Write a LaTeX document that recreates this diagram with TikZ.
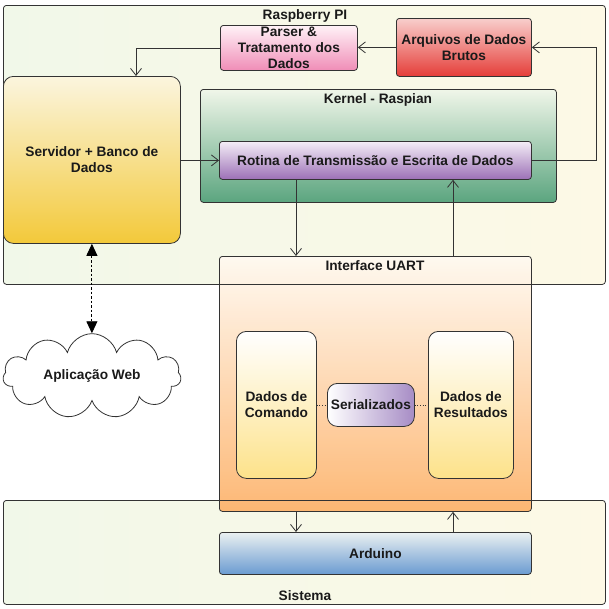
\documentclass[tikz,border=0pt]{standalone}
\usepackage{fontspec}
\setmainfont{Liberation Sans}
\usetikzlibrary{arrows.meta,shapes.symbols,calc}
\definecolor{edge}{HTML}{333333}
\definecolor{txt}{HTML}{1A1A1A}
\definecolor{contL}{HTML}{F1F8E9}
\definecolor{contR}{HTML}{FDF9E6}
\definecolor{parT}{HTML}{FFF2F7}
\definecolor{parB}{HTML}{F08DB7}
\definecolor{arqT}{HTML}{F8CECC}
\definecolor{arqB}{HTML}{E53E39}
\definecolor{srvT}{HTML}{FBF5DE}
\definecolor{srvB}{HTML}{F3C93A}
\definecolor{kerT}{HTML}{F0F6E9}
\definecolor{kerB}{HTML}{5BA57F}
\definecolor{rotT}{HTML}{F4EEF7}
\definecolor{rotB}{HTML}{9C70B6}
\definecolor{uartT}{HTML}{FFF9F1}
\definecolor{uartB}{HTML}{FDB066}
\definecolor{cmdT}{HTML}{FFFFFF}
\definecolor{cmdB}{HTML}{FDE28A}
\definecolor{serL}{HTML}{FFFFFF}
\definecolor{serR}{HTML}{A68CC5}
\definecolor{ardT}{HTML}{EAF0F1}
\definecolor{ardB}{HTML}{6A9BD1}
\begin{document}
\begin{tikzpicture}[x=1pt,y=-1pt,
 font=\bfseries\fontsize{13.7}{16}\selectfont,
 box/.style={draw=edge, line width=0.8pt, rounded corners=#1, anchor=north west, inner sep=0pt, align=center, text=txt},
 box/.default=3pt,
 lbl/.style={text=txt, inner sep=0pt},
 arr/.style={draw=edge, line width=0.8pt, -{Straight Barb[length=7pt,width=11pt]}},
 dotl/.style={draw=edge, line width=0.6pt, dotted},
 dashl/.style={draw=black, line width=0.9pt, dash pattern=on 2.5pt off 2pt, {Triangle[length=12pt,width=11pt]}-{Triangle[length=12pt,width=11pt]}}
]
\useasboundingbox (0,0) rectangle (609,608);
% containers
\node[box, minimum width=602pt, minimum height=279pt, left color=contL, right color=contR] (rasp) at (3,5) {};
\node[lbl] (lrasp) at (305,16) {Raspberry PI};
\node[box, minimum width=602pt, minimum height=104pt, left color=contL, right color=contR] (sistema) at (3,500) {};
\node[lbl] (lsis) at (305,596) {Sistema};
\node[box, minimum width=356pt, minimum height=113pt, top color=kerT, bottom color=kerB] (kernel) at (200,89) {};
\node[lbl] (lker) at (378,100) {Kernel - Raspian};
\node[box, minimum width=312pt, minimum height=38pt, top color=rotT, bottom color=rotB] (rotina) at (219,141) {Rotina de Transmissão e Escrita de Dados};
\node[box=10pt, minimum width=177pt, minimum height=167pt, top color=srvT, bottom color=srvB] (servidor) at (3,76) {Servidor + Banco de\\Dados};
\node[box, minimum width=137pt, minimum height=45pt, top color=parT, bottom color=parB] (parser) at (220,25) {Parser \&\\Tratamento dos\\Dados};
\node[box, minimum width=135pt, minimum height=58pt, top color=arqT, bottom color=arqB] (arquivos) at (396,18) {Arquivos de Dados\\Brutos};
% UART
\node[box, minimum width=312pt, minimum height=255pt, top color=uartT, bottom color=uartB, fill opacity=0.9, text opacity=1] (uart) at (219,256) {};
\draw[draw=edge, line width=0.8pt] (uart.west |- rasp.south) -- (uart.east |- rasp.south);
\draw[draw=edge, line width=0.8pt] (uart.west |- sistema.north) -- (uart.east |- sistema.north);
\node[lbl] (luart) at (375,266) {Interface UART};
\node[box=10pt, minimum width=80pt, minimum height=147pt, top color=cmdT, bottom color=cmdB] (comando) at (236,331) {Dados de\\Comando};
\node[box=10pt, minimum width=87pt, minimum height=43pt, left color=serL, right color=serR] (serial) at (327,383) {Serializados};
\node[box=10pt, minimum width=85pt, minimum height=147pt, top color=cmdT, bottom color=cmdB] (resultados) at (428,331) {Dados de\\Resultados};
\node[box, minimum width=312pt, minimum height=42pt, top color=ardT, bottom color=ardB] (arduino) at (219,532) {Arduino};
% cloud
\node[cloud, draw=edge, line width=0.8pt, cloud puffs=11, aspect=2.4, minimum width=178pt, minimum height=76pt, fill=white, inner sep=0pt, text=txt] (web) at (92,376) {Aplicação Web};
% connectors
\coordinate (xl) at (296,0);
\coordinate (xr) at (453,0);
\coordinate (xsv) at (136,0);
\coordinate (xrt) at (596,0);
\draw[arr] (arquivos.west) -- (arquivos.west -| parser.east);
\draw[arr] (parser.west) -| (servidor.north -| xsv);
\draw[arr] (rotina.east) -| (xrt |- arquivos.east) -- (arquivos.east);
\draw[arr] (servidor.east |- rotina.west) -- (rotina.west);
\draw[arr] (rotina.south -| xl) -- (uart.north -| xl);
\draw[arr] (uart.north -| xr) -- (rotina.south -| xr);
\draw[arr] (uart.south -| xl) -- (arduino.north -| xl);
\draw[arr] (arduino.north -| xr) -- (uart.south -| xr);
\draw[dotl] (comando.east) -- (serial.west);
\draw[dotl] (serial.east) -- (resultados.west);
\draw[dashl] (servidor.south) -- (servidor.south |- web.north);
\end{tikzpicture}
\end{document}
